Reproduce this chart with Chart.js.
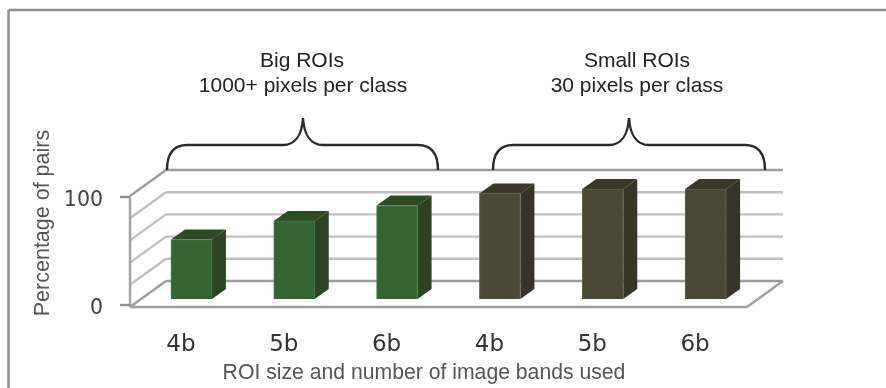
<!DOCTYPE html>
<html>
<head>
<meta charset="utf-8">
<title>ROI pairs</title>
<script src="https://cdn.jsdelivr.net/npm/chart.js@4"></script>
<style>
html, body { margin: 0; padding: 0; background: #fff; overflow: hidden; }
canvas { display: block; }
</style>
</head>
<body>
<canvas id="chart1" width="886" height="388"></canvas>
<script>
// data
const categories = ['4b', '5b', '6b', '4b', '5b', '6b'];
const pairPercent = [54, 71, 85, 96, 100, 100];
const axisValues = [0, 100];
const wallLevels = [0, 20, 40, 60, 80, 100];
const groupLines = [
    ['Big ROIs', '1000+ pixels per class'],
    ['Small ROIs', '30 pixels per class']
];
const yAxisTitle = 'Percentage of pairs';
const xAxisTitle = 'ROI size and number of image bands used';

// colours
const green = { front: '#356333', edge: '#4a7a46', top: '#2e4b25', side: '#2c4422' };
const olive = { front: '#4a4834', edge: '#62604e', top: '#3a372b', side: '#363329' };
const barStyles = [green, green, green, olive, olive, olive];

// plot box and the depth of the fake 3d floor
const box = { left: 140, right: 757, top: 126, bottom: 320 };
const floorDepth = { dx: 36, dy: 26 };
const barDepth = { dx: 14, dy: 10 };
const wallLeft = 130;
const wallRight = 783;
const floorFrontRight = 747;

// min/max for a y axis so that 0 and 100 land on the wanted pixel rows
function rangeFor(zeroY, hundredY) {
    const perUnit = (zeroY - hundredY) / 100;
    return { min: -(box.bottom - zeroY) / perUnit, max: (zeroY - box.top) / perUnit };
}

function line(ctx, x1, y1, x2, y2, color, width) {
    ctx.strokeStyle = color;
    ctx.lineWidth = width;
    ctx.beginPath();
    ctx.moveTo(x1, y1);
    ctx.lineTo(x2, y2);
    ctx.stroke();
}

function brace(ctx, x1, x2, tipX, tipY, midY, footY) {
    ctx.strokeStyle = '#2a2a2a';
    ctx.lineWidth = 2.4;
    ctx.beginPath();
    ctx.moveTo(x1, footY);
    ctx.bezierCurveTo(x1, midY + 8, x1 + 7, midY, x1 + 20, midY);
    ctx.lineTo(tipX - 20, midY);
    ctx.bezierCurveTo(tipX - 8, midY, tipX - 1, midY - 10, tipX, tipY);
    ctx.bezierCurveTo(tipX + 1, midY - 10, tipX + 8, midY, tipX + 20, midY);
    ctx.lineTo(x2 - 20, midY);
    ctx.bezierCurveTo(x2 - 7, midY, x2, midY + 8, x2, footY);
    ctx.stroke();
}

// outer frame, 3d walls and floor under the bars
const wallPlugin = {
    id: 'wallPlugin',
    beforeDatasetsDraw(chart) {
        const ctx = chart.ctx;
        const wall = chart.scales.wall;
        const front = chart.scales.y;
        ctx.save();
        line(ctx, 8.5, 10, 886, 10, '#8f8f8f', 2.5);
        line(ctx, 8.5, 10, 8.5, 388, '#8f8f8f', 2.5);

        wallLevels.forEach(level => {
            const y = wall.getPixelForValue(level);
            const edge = level === 0 || level === 100;
            const color = edge ? '#9c9ca0' : '#bfbfc5';
            line(ctx, wallLeft, y + floorDepth.dy, wallLeft + floorDepth.dx, y, color, 2.4);
            line(ctx, wallLeft + floorDepth.dx, y, wallRight, y, color, 2.4);
        });

        const floorY = wall.getPixelForValue(0) + floorDepth.dy;
        line(ctx, wallLeft, floorY, floorFrontRight, floorY, '#a0a0a3', 2.4);
        line(ctx, floorFrontRight, floorY, wallRight, floorY - floorDepth.dy, '#a0a0a3', 2.4);
        line(ctx, wallLeft, front.getPixelForValue(100), wallLeft, floorY, '#a0a0a3', 2.4);
        axisValues.forEach(v => {
            const y = front.getPixelForValue(v);
            line(ctx, wallLeft - 10, y, wallLeft, y, '#8f8f8f', 2.4);
        });
        ctx.restore();

        // top and side faces of each bar
        chart.getDatasetMeta(0).data.forEach((bar, i) => {
            const right = bar.x + bar.width / 2;
            const left = bar.x - bar.width / 2;
            const d = barDepth;
            ctx.fillStyle = barStyles[i].side;
            ctx.beginPath();
            ctx.moveTo(right, bar.y);
            ctx.lineTo(right + d.dx, bar.y - d.dy);
            ctx.lineTo(right + d.dx, bar.base - d.dy);
            ctx.lineTo(right, bar.base);
            ctx.closePath();
            ctx.fill();
            ctx.fillStyle = barStyles[i].top;
            ctx.beginPath();
            ctx.moveTo(left, bar.y);
            ctx.lineTo(left + d.dx, bar.y - d.dy);
            ctx.lineTo(right + d.dx, bar.y - d.dy);
            ctx.lineTo(right, bar.y);
            ctx.closePath();
            ctx.fill();
        });
    },
    // braces, group captions and the two axis captions
    afterDraw(chart) {
        const ctx = chart.ctx;
        ctx.save();
        brace(ctx, 167, 438, 303, 118, 145, 170);
        brace(ctx, 493, 765, 629, 118, 145, 170);

        ctx.fillStyle = '#222';
        ctx.font = '21px "Liberation Sans"';
        ctx.textAlign = 'center';
        ctx.textBaseline = 'alphabetic';
        ctx.fillText(groupLines[0][0], 302, 67);
        ctx.fillText(groupLines[0][1], 303, 92);
        ctx.fillText(groupLines[1][0], 637, 67);
        ctx.fillText(groupLines[1][1], 637, 92);

        ctx.fillStyle = '#555';
        ctx.font = '21.2px "Liberation Sans"';
        ctx.fillText(xAxisTitle, 424, 379);
        ctx.font = '21.5px "Liberation Sans"';
        ctx.translate(49, 223);
        ctx.rotate(-Math.PI / 2);
        ctx.fillText(yAxisTitle, 0, 0);
        ctx.restore();
    }
};

const barRange = rangeFor(299, 189);
const frontRange = rangeFor(305, 197);
const wallRange = rangeFor(281, 170);

let chart1 = new Chart('chart1', {
    type: 'bar',
    data: {
        labels: categories,
        datasets: [{
            data: pairPercent,
            yAxisID: 'bars',
            backgroundColor: barStyles.map(s => s.front),
            borderColor: barStyles.map(s => s.edge),
            borderWidth: 1,
            barThickness: 41
        }]
    },
    options: {
        responsive: false,
        animation: false,
        layout: { padding: { top: box.top, right: 886 - box.right, left: 0, bottom: 0 } },
        plugins: { legend: { display: false }, tooltip: { enabled: false } },
        scales: {
            x: {
                grid: { display: false },
                border: { display: false },
                afterFit(scale) { scale.height = 388 - box.bottom; },
                ticks: {
                    autoSkip: false,
                    maxRotation: 0,
                    color: '#333',
                    labelOffset: -10.5,
                    padding: 3,
                    font: { family: '"DejaVu Sans"', size: 23 }
                }
            },
            y: {
                position: 'left',
                min: frontRange.min,
                max: frontRange.max,
                grid: { display: false, drawTicks: false },
                border: { display: false },
                afterFit(scale) { scale.width = box.left; },
                afterBuildTicks(scale) { scale.ticks = axisValues.map(v => ({ value: v })); },
                ticks: {
                    color: '#444',
                    padding: 37,
                    labelOffset: 4,
                    font: { family: '"DejaVu Sans"', size: 20.5 }
                }
            },
            bars: { axis: 'y', position: 'left', display: false, min: barRange.min, max: barRange.max },
            wall: { axis: 'y', position: 'left', display: false, min: wallRange.min, max: wallRange.max }
        }
    },
    plugins: [wallPlugin]
});
</script>
</body>
</html>
